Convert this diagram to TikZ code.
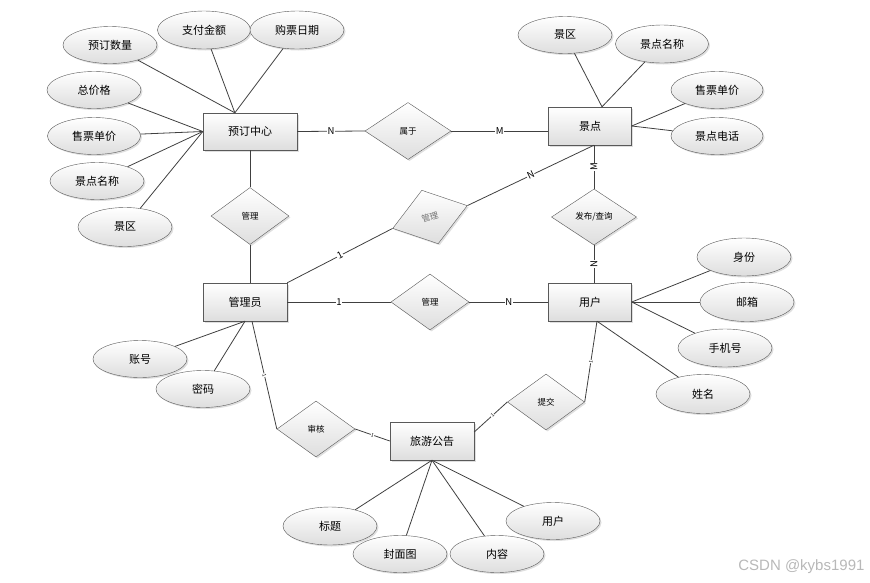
\documentclass[tikz,border=0pt]{standalone}
\usepackage{fontspec}
\setmainfont{Noto Sans CJK SC}
\newfontfamily\markfont{Liberation Sans}
\usetikzlibrary{positioning, shapes.geometric, shadows}

\begin{document}
\begin{tikzpicture}[
    x=1pt, y=-1pt,
    boxshade/.style={top color=white, bottom color=black!13,
        drop shadow={opacity=0.25, shadow xshift=1.5pt, shadow yshift=-1.5pt}},
    entity/.style={draw=black!65, rectangle, minimum width=84pt, minimum height=38pt, boxshade, font=\fontsize{11}{13}\selectfont},
    attr/.style={draw=black!65, ellipse, minimum width=94pt, minimum height=37pt, inner sep=0pt, boxshade, font=\fontsize{11}{13}\selectfont},
    rel/.style={draw=black!65, diamond, minimum width=78pt, minimum height=56pt, inner sep=0pt, boxshade, font=\fontsize{8.5}{10}\selectfont},
    link/.style={draw=black!75, line width=0.8pt},
    card/.style={fill=white, inner sep=0.6pt, font=\fontsize{9.5}{10}\selectfont},
    tick/.style={fill=white, inner sep=0.3pt, sloped, font=\fontsize{5}{5}\selectfont}
]
\useasboundingbox (0,0) rectangle (870,582);

% Entities
\node[entity, minimum width=94pt, minimum height=37pt] (book) at (250,131.5) {预订中心};
\node[entity, minimum width=83pt] (spot) at (590,126) {景点};
\node[entity] (admin) at (245,302) {管理员};
\node[entity, minimum width=83pt] (user) at (590,302) {用户};
\node[entity] (notice) at (432,441) {旅游公告};

% Relations
\node[rel, minimum width=86pt, minimum height=57pt] (belong) at (408,131) {属于};
\node[rel, minimum height=57pt] (mgrbook) at (250,216) {管理};
\node[rel, rotate=17, text=black!55] (mgrspot) at (430,217) {管理};
\node[rel, minimum width=85pt] (pub) at (594,217) {发布/查询};
\node[rel] (mgruser) at (430,302) {管理};
\node[rel, minimum width=77pt] (submit) at (546,402) {提交};
\node[rel] (review) at (316,429) {审核};

% Attributes of booking
\node[attr] (bookqty) at (110,45) {预订数量};
\node[attr, minimum width=93pt, minimum height=38pt] (bookpay) at (204,30) {支付金额};
\node[attr, minimum height=38pt] (bookdate) at (297,30) {购票日期};
\node[attr] (booktotal) at (94,90) {总价格};
\node[attr, minimum width=93pt] (bookprice) at (94,136) {售票单价};
\node[attr] (bookname) at (97,181) {景点名称};
\node[attr, minimum height=39pt] (bookarea) at (125,227) {景区};

% Attributes of spot
\node[attr] (spotarea) at (565,35) {景区};
\node[attr, minimum width=93pt, minimum height=38pt] (spotname) at (662,44) {景点名称};
\node[attr, minimum width=92pt] (spotprice) at (717,90) {售票单价};
\node[attr, minimum width=92pt] (spottel) at (717,136) {景点电话};

% Attributes of admin
\node[attr] (adminacc) at (140,359) {账号};
\node[attr] (adminpwd) at (203,389) {密码};

% Attributes of user
\node[attr, minimum height=38pt] (userid) at (744,257) {身份};
\node[attr, minimum height=39pt] (usermail) at (747,302) {邮箱};
\node[attr, minimum height=38pt] (userphone) at (725,348) {手机号};
\node[attr, minimum height=39pt] (username) at (703,394) {姓名};

% Attributes of notice
\node[attr, minimum height=38pt] (noticetitle) at (330,526) {标题};
\node[attr] (noticecover) at (400,554) {封面图};
\node[attr] (noticetext) at (497,554) {内容};
\node[attr] (noticeuser) at (553,521) {用户};

% Attribute links
\draw[link] (bookqty) -- (book.129);
\draw[link] (bookpay) -- (book.129);
\draw[link] (bookdate) -- (book.129);
\draw[link] (booktotal) -- (book.west);
\draw[link] (bookprice) -- (book.west);
\draw[link] (bookname) -- (book.west);
\draw[link] (bookarea) -- (book.west);

\draw[link] (spotarea) -- (spot.58);
\draw[link] (spotname) -- (spot.58);
\draw[link] (spotprice) -- (spot.east);
\draw[link] (spottel) -- (spot.east);

\draw[link] (adminacc) -- (admin.south);
\draw[link] (adminpwd) -- (admin.south);

\draw[link] (userid) -- (user.east);
\draw[link] (usermail) -- (user.east);
\draw[link] (userphone) -- (user.east);
\draw[link] (username) -- (user.-70);

\draw[link] (noticetitle) -- (notice.south);
\draw[link] (noticecover) -- (notice.south);
\draw[link] (noticetext) -- (notice.south);
\draw[link] (noticeuser) -- (notice.south);

% Relation links
\draw[link] (book.east) -- node[card] {N} (belong.west);
\draw[link] (belong.east) -- node[card] {M} (belong.east -| spot.west);
\draw[link] (book.south) -- (mgrbook.north);
\draw[link] (mgrbook.south) -- (mgrbook.south |- admin.north);
\draw[link] (admin.north east) -- node[card, sloped] {1} (mgrspot.west);
\draw[link] (mgrspot.east) -- node[card, sloped] {N} (pub.north |- spot.south);
\draw[link] (pub.north |- spot.south) -- node[card, rotate=90] {M} (pub.north);
\draw[link] (pub.south) -- node[card, rotate=90] {N} (pub.south |- user.north);
\draw[link] (admin.east) -- node[card] {1} (mgruser.west);
\draw[link] (mgruser.east) -- node[card] {N} (user.west);
\draw[link] (user.-70) -- node[tick] {1} (submit.east);
\draw[link] (submit.west) -- node[tick, pos=0.45] {1} (notice.12);
\draw[link] (admin.-70) -- node[tick] {1} (review.west);
\draw[link] (review.east) -- node[tick] {1} (notice.west);

% Watermark
\node[anchor=east, text=black!28, font=\markfont\fontsize{15}{16}\selectfont] (mark) at (868,567) {CSDN @kybs1991};

\end{tikzpicture}
\end{document}
